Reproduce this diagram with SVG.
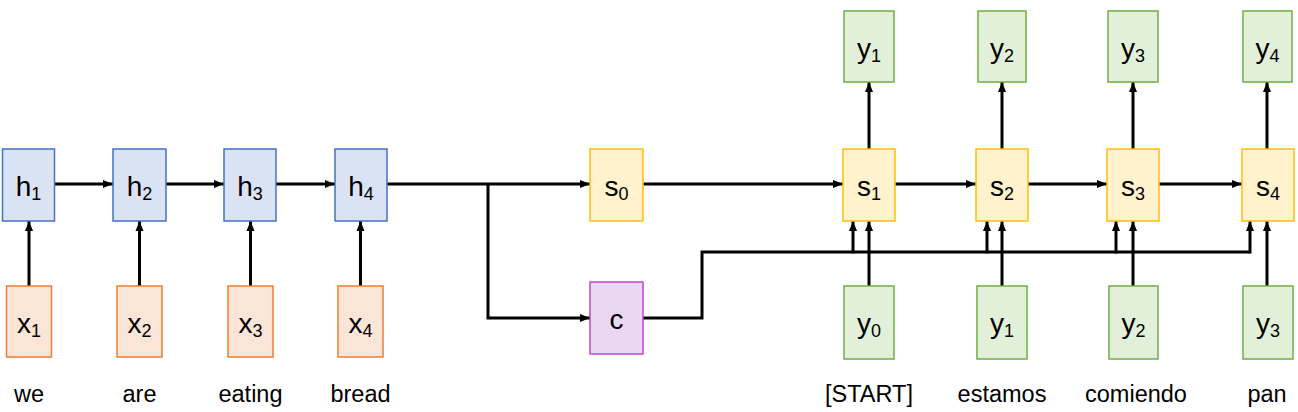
<svg xmlns="http://www.w3.org/2000/svg" width="1298" height="412" viewBox="0 0 1298 412">
<defs>
<marker id="arr" markerUnits="userSpaceOnUse" markerWidth="10" markerHeight="10" viewBox="0 0 10 10" refX="10" refY="5" orient="auto">
<path d="M0,1 L10,5 L0,9 Z" fill="#000"/>
</marker>
</defs>
<style>
.h{fill:#DAE3F3;stroke:#4472C4;stroke-width:1.5}
.x{fill:#FBE5D6;stroke:#ED7D31;stroke-width:1.5}
.s{fill:#FFF2CC;stroke:#FFC000;stroke-width:1.5}
.y{fill:#E2F0D9;stroke:#70AD47;stroke-width:1.5}
.c{fill:#E8D8F1;stroke:#C344CC;stroke-width:1.5}
.lbl{font-family:"Liberation Sans",Arial,sans-serif;font-size:28px;text-anchor:middle;fill:#000}
.sub{font-size:18px}
.word{font-family:"Liberation Sans",Arial,sans-serif;font-size:23.5px;text-anchor:middle;fill:#000}
.ln{fill:none;stroke:#000;stroke-width:3}
.ar{fill:none;stroke:#000;stroke-width:3;marker-end:url(#arr)}
</style>
<rect width="1298" height="412" fill="#fff"/>

<g id="connectors">
<line class="ar" x1="29" y1="286" x2="29" y2="221"/>
<line class="ar" x1="139.5" y1="286" x2="139.5" y2="221"/>
<line class="ar" x1="250.5" y1="286" x2="250.5" y2="221"/>
<line class="ar" x1="360.5" y1="286" x2="360.5" y2="221"/>
<line class="ar" x1="55" y1="184" x2="113" y2="184"/>
<line class="ar" x1="166" y1="184" x2="224" y2="184"/>
<line class="ar" x1="276" y1="184" x2="335" y2="184"/>
<line class="ar" x1="387" y1="184" x2="590" y2="184"/>
<polyline class="ar" points="488,184 488,318 590,318"/>
<line class="ar" x1="643" y1="184" x2="843" y2="184"/>
<line class="ar" x1="895" y1="184" x2="976" y2="184"/>
<line class="ar" x1="1028" y1="184" x2="1107" y2="184"/>
<line class="ar" x1="1159" y1="184" x2="1242" y2="184"/>
<line class="ar" x1="869" y1="149" x2="869" y2="82"/>
<line class="ar" x1="1002" y1="149" x2="1002" y2="82"/>
<line class="ar" x1="1133" y1="149" x2="1133" y2="82"/>
<line class="ar" x1="1267" y1="149" x2="1267" y2="82"/>
<line class="ar" x1="869" y1="286" x2="869" y2="221"/>
<line class="ar" x1="1002" y1="286" x2="1002" y2="221"/>
<line class="ar" x1="1133" y1="286" x2="1133" y2="221"/>
<line class="ar" x1="1267" y1="286" x2="1267" y2="221"/>
<polyline class="ln" points="643,318 702,318 702,252 1250,252"/>
<line class="ar" x1="853" y1="253.5" x2="853" y2="221"/>
<line class="ar" x1="987" y1="253.5" x2="987" y2="221"/>
<line class="ar" x1="1116" y1="253.5" x2="1116" y2="221"/>
<line class="ar" x1="1250" y1="253.5" x2="1250" y2="221"/>
</g>

<g id="h1"><rect class="h" x="2.5" y="149" width="52" height="72"/><text class="lbl" x="28.5" y="196">h<tspan class="sub" dy="4">1</tspan></text></g>
<g id="h2"><rect class="h" x="113" y="149" width="53" height="72"/><text class="lbl" x="139.5" y="196">h<tspan class="sub" dy="4">2</tspan></text></g>
<g id="h3"><rect class="h" x="224" y="149" width="52" height="72"/><text class="lbl" x="250" y="196">h<tspan class="sub" dy="4">3</tspan></text></g>
<g id="h4"><rect class="h" x="335" y="149" width="52" height="72"/><text class="lbl" x="361" y="196">h<tspan class="sub" dy="4">4</tspan></text></g>

<g id="x1"><rect class="x" x="6.5" y="286" width="45" height="71"/><text class="lbl" x="29" y="333">x<tspan class="sub" dy="4">1</tspan></text></g>
<g id="x2"><rect class="x" x="117" y="286" width="45" height="71"/><text class="lbl" x="139.5" y="333">x<tspan class="sub" dy="4">2</tspan></text></g>
<g id="x3"><rect class="x" x="228" y="286" width="45" height="71"/><text class="lbl" x="250.5" y="333">x<tspan class="sub" dy="4">3</tspan></text></g>
<g id="x4"><rect class="x" x="338" y="286" width="45" height="71"/><text class="lbl" x="360.5" y="333">x<tspan class="sub" dy="4">4</tspan></text></g>

<g id="s0"><rect class="s" x="590" y="149" width="53" height="72"/><text class="lbl" x="616.5" y="196">s<tspan class="sub" dy="4">0</tspan></text></g>
<g id="c"><rect class="c" x="590" y="282" width="53" height="72"/><text class="lbl" x="616.5" y="329">c</text></g>

<g id="s1"><rect class="s" x="843" y="149" width="52" height="72"/><text class="lbl" x="869" y="196">s<tspan class="sub" dy="4">1</tspan></text></g>
<g id="s2"><rect class="s" x="976" y="149" width="52" height="72"/><text class="lbl" x="1002" y="196">s<tspan class="sub" dy="4">2</tspan></text></g>
<g id="s3"><rect class="s" x="1107" y="149" width="52" height="72"/><text class="lbl" x="1133" y="196">s<tspan class="sub" dy="4">3</tspan></text></g>
<g id="s4"><rect class="s" x="1242" y="149" width="52" height="72"/><text class="lbl" x="1268" y="196">s<tspan class="sub" dy="4">4</tspan></text></g>

<g id="out1"><rect class="y" x="844" y="11" width="50" height="71"/><text class="lbl" x="869" y="58">y<tspan class="sub" dy="4">1</tspan></text></g>
<g id="out2"><rect class="y" x="978" y="11" width="48" height="71"/><text class="lbl" x="1002" y="58">y<tspan class="sub" dy="4">2</tspan></text></g>
<g id="out3"><rect class="y" x="1108" y="11" width="50" height="71"/><text class="lbl" x="1133" y="58">y<tspan class="sub" dy="4">3</tspan></text></g>
<g id="out4"><rect class="y" x="1243" y="11" width="49" height="71"/><text class="lbl" x="1267.5" y="58">y<tspan class="sub" dy="4">4</tspan></text></g>

<g id="in0"><rect class="y" x="844" y="286" width="50" height="73"/><text class="lbl" x="869" y="333">y<tspan class="sub" dy="4">0</tspan></text></g>
<g id="in1"><rect class="y" x="977" y="286" width="50" height="73"/><text class="lbl" x="1002" y="333">y<tspan class="sub" dy="4">1</tspan></text></g>
<g id="in2"><rect class="y" x="1109" y="286" width="49" height="73"/><text class="lbl" x="1133.5" y="333">y<tspan class="sub" dy="4">2</tspan></text></g>
<g id="in3"><rect class="y" x="1243" y="286" width="50" height="73"/><text class="lbl" x="1268" y="333">y<tspan class="sub" dy="4">3</tspan></text></g>

<g id="words">
<text class="word" x="29" y="402">we</text>
<text class="word" x="139.5" y="402">are</text>
<text class="word" x="250.5" y="402">eating</text>
<text class="word" x="360.5" y="402">bread</text>
<text class="word" x="869" y="402">[START]</text>
<text class="word" x="1002" y="402">estamos</text>
<text class="word" x="1136" y="402">comiendo</text>
<text class="word" x="1267" y="402">pan</text>
</g>
</svg>
